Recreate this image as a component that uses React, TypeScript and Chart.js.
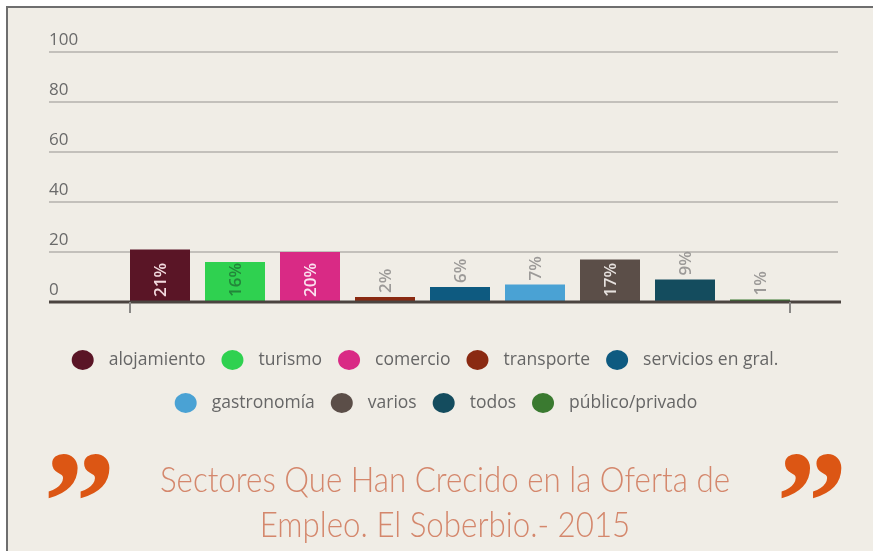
import React, { useEffect, useRef } from "react";
import { Chart, registerables } from "chart.js";

Chart.register(...registerables);

// ---------- data ----------
const categories = [
  "alojamiento",
  "turismo",
  "comercio",
  "transporte",
  "servicios en gral.",
  "gastronomía",
  "varios",
  "todos",
  "público/privado",
];
const values = [21, 16, 20, 2, 6, 7, 17, 9, 1];
const yTickValues = [0, 20, 40, 60, 80, 100];
const legendRowSizes = [5, 4];
const titleLines = ["Sectores Que Han Crecido en la Oferta de", "Empleo. El Soberbio.- 2015"];

// ---------- styles ----------
const barColors = [
  "#5a1526",
  "#2fd150",
  "#d92a85",
  "#8a2a12",
  "#0e5a80",
  "#4aa2d4",
  "#5b4e48",
  "#144c5e",
  "#3a7a30",
];
const valueLabelColors = [
  "#f2dade",
  "#23863a",
  "#fbe1ef",
  "#9c9a98",
  "#9c9a98",
  "#9c9a98",
  "#e6e1de",
  "#9c9a98",
  "#9c9a98",
];
const BG = "#f0ede6";
const TITLE_COLOR = "#d4876c";
const QUOTE_COLOR = "#dc5614";

const decorPlugin = {
  id: "decor",
  beforeDraw(chart: any) {
    const { ctx, width, height } = chart;
    ctx.save();
    ctx.fillStyle = "#ffffff";
    ctx.fillRect(0, 0, width, height);
    ctx.fillStyle = BG;
    ctx.fillRect(6, 6, width - 6, height - 6);
    ctx.strokeStyle = "#6e6e6e";
    ctx.lineWidth = 2;
    ctx.beginPath();
    ctx.moveTo(7, height);
    ctx.lineTo(7, 7);
    ctx.lineTo(width, 7);
    ctx.stroke();
    ctx.restore();
  },
  afterDatasetsDraw(chart: any) {
    const { ctx, chartArea } = chart;
    const meta = chart.getDatasetMeta(0);
    const els = meta.data;
    ctx.save();
    const y0 = chart.scales.y.getPixelForValue(0);
    ctx.strokeStyle = "#4b4440";
    ctx.lineWidth = 3;
    ctx.beginPath();
    ctx.moveTo(chartArea.left, y0);
    ctx.lineTo(chartArea.right + 3, y0);
    ctx.stroke();
    const first = els[0];
    const last = els[els.length - 1];
    ctx.strokeStyle = "#8a8886";
    ctx.lineWidth = 2;
    ctx.beginPath();
    ctx.moveTo(first.x - first.width / 2, y0);
    ctx.lineTo(first.x - first.width / 2, y0 + 11);
    ctx.moveTo(last.x + last.width / 2, y0);
    ctx.lineTo(last.x + last.width / 2, y0 + 11);
    ctx.stroke();
    ctx.font = "600 17px 'Open Sans'";
    els.forEach((el: any, i: number) => {
      const label = values[i] + "%";
      const tw = ctx.measureText(label).width;
      const h = el.base - el.y;
      const inside = h > tw + 2;
      ctx.save();
      ctx.translate(el.x, inside ? el.base - 4 : el.y - 4);
      ctx.rotate(-Math.PI / 2);
      ctx.textAlign = "left";
      ctx.textBaseline = "middle";
      ctx.fillStyle = inside ? valueLabelColors[i] : "#9c9a98";
      ctx.fillText(label, 0, 1);
      ctx.restore();
    });
    ctx.restore();
  },
  afterDraw(chart: any) {
    const { ctx } = chart;
    ctx.save();
    // ---- legend ----
    const r = 11;
    const gapText = 15;
    const gapItem = 16;
    const rowYs = [360, 403];
    const rowCenters = [425, 436];
    ctx.font = "17.5px 'Open Sans'";
    ctx.textBaseline = "middle";
    ctx.textAlign = "left";
    let idx = 0;
    legendRowSizes.forEach((n, row) => {
      const items = categories.slice(idx, idx + n).map((c, k) => ({
        text: c,
        color: barColors[idx + k],
        w: ctx.measureText(c).width,
      }));
      const total =
        items.reduce((s, it) => s + 2 * r + gapText + it.w, 0) + gapItem * (n - 1);
      let x = rowCenters[row] - total / 2;
      const y = rowYs[row];
      items.forEach((it) => {
        ctx.fillStyle = it.color;
        ctx.beginPath();
        ctx.ellipse(x + r, y, r, r - 1, 0, 0, Math.PI * 2);
        ctx.fill();
        ctx.fillStyle = "#666666";
        ctx.fillText(it.text, x + 2 * r + gapText, y);
        x += 2 * r + gapText + it.w + gapItem;
      });
      idx += n;
    });

    // ---- title ----
    ctx.font = "300 35px Lato";
    ctx.fillStyle = TITLE_COLOR;
    ctx.textAlign = "center";
    ctx.textBaseline = "alphabetic";
    const w1 = ctx.measureText(titleLines[0]).width;
    const sx = 570 / w1;
    const baselines = [492, 537];
    titleLines.forEach((line, i) => {
      ctx.save();
      ctx.translate(445, baselines[i]);
      ctx.scale(sx, 1);
      ctx.fillText(line, 0, 0);
      ctx.restore();
    });

    // ---- quote marks ----
    ctx.font = "bold 150px 'Liberation Serif'";
    ctx.fillStyle = QUOTE_COLOR;
    ctx.textAlign = "left";
    ctx.textBaseline = "alphabetic";
    const q = "\u201D";
    const m = ctx.measureText(q);
    const gw = m.actualBoundingBoxLeft + m.actualBoundingBoxRight;
    const gh = m.actualBoundingBoxAscent + m.actualBoundingBoxDescent;
    const boxes = [
      [48, 453, 62, 45],
      [781, 453, 61, 45],
    ];
    boxes.forEach(([bx, by, bw, bh]) => {
      ctx.save();
      ctx.translate(bx, by);
      ctx.scale(bw / gw, bh / gh);
      ctx.fillText(q, m.actualBoundingBoxLeft, m.actualBoundingBoxAscent);
      ctx.restore();
    });
    ctx.restore();
  },
};

export default function App() {
  const ref = useRef<HTMLCanvasElement | null>(null);
  useEffect(() => {
    if (!ref.current) return;
    const chart = new Chart(ref.current, {
      type: "bar",
      data: {
        labels: categories,
        datasets: [
          {
            label: "Sectores",
            data: values.map((v, i) => ({ x: i, y: v })) as any,
            backgroundColor: barColors,
            borderWidth: 0,
            barPercentage: 0.8,
            categoryPercentage: 1,
          },
        ],
      },
      options: {
        responsive: false,
        animation: false,
        layout: { padding: { left: 49, right: 35, top: 52, bottom: 249 } },
        plugins: {
          legend: { display: false },
          tooltip: { enabled: false },
          title: { display: false },
        },
        scales: {
          x: {
            type: "linear",
            min: -1.48,
            max: 9.04,
            offset: false,
            bounds: "data",
            display: false,
            afterBuildTicks: (scale: any) => {
              scale.ticks = categories.map((_, i) => ({ value: i }));
            },
          },
          y: {
            min: 0,
            max: 100,
            afterBuildTicks: (scale: any) => {
              scale.ticks = yTickValues.map((v) => ({ value: v }));
            },
            ticks: {
              mirror: true,
              padding: 0,
              labelOffset: -12,
              color: "#6a6a6a",
              font: { family: "'Open Sans'", size: 17 },
            },
            grid: {
              drawTicks: false,
              color: "#c3c0bb",
              lineWidth: 2,
            },
            border: { display: false },
          },
        },
      },
      plugins: [decorPlugin],
    });
    return () => chart.destroy();
  }, []);
  return (
    <div style={{ position: "fixed", left: 0, top: 0, width: 873, height: 551 }}>
      <canvas ref={ref} width={873} height={551} />
    </div>
  );
}
